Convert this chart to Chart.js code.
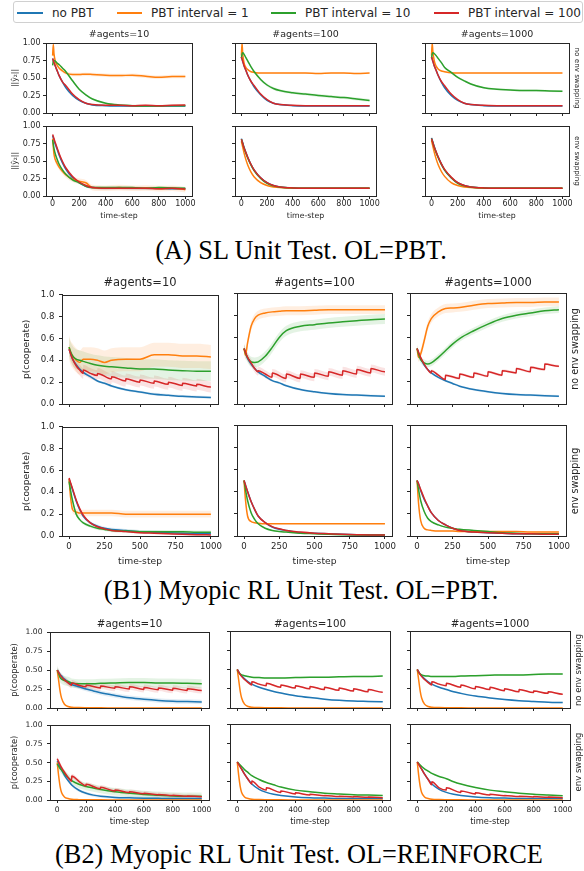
<!DOCTYPE html>
<html><head><meta charset="utf-8">
<script src="https://cdn.jsdelivr.net/npm/chart.js@4.4.0/dist/chart.umd.min.js"></script>
<style>
html,body{margin:0;padding:0;background:#fff;}
body{width:584px;height:871px;position:relative;overflow:hidden;font-family:'DejaVu Sans',sans-serif;}
canvas{position:absolute;}
.t{position:absolute;white-space:nowrap;color:#262626;line-height:1;}
.cap{position:absolute;white-space:nowrap;font-family:'Liberation Serif','Times New Roman',serif;line-height:1;color:#000;}
#legend{position:absolute;left:13px;top:1px;width:568px;height:20px;border:1px solid #d0d0d0;border-radius:3px;}
.ll{position:absolute;height:2px;top:10px;}
.lt{position:absolute;top:4px;font-size:12px;line-height:14px;color:#262626;white-space:nowrap;}
</style></head><body>
<div id="legend"></div>
<script>
// ---------------- labels ----------------
const SERIES = ['no PBT','PBT interval = 1','PBT interval = 10','PBT interval = 100'];
const AGENT_TITLES = ['#agents=10','#agents=100','#agents=1000'];
const ROW_LABELS = ['no env swapping','env swapping'];
const CAPTIONS = ['(A) SL Unit Test. OL=PBT.','(B1) Myopic RL Unit Test. OL=PBT.','(B2) Myopic RL Unit Test. OL=REINFORCE'];
const A_XTICKS = [0,200,400,600,800,1000];
const A_YTICKS = [0,0.25,0.5,0.75,1];
const B1_XTICKS = [0,250,500,750,1000];
const B1_YTICKS = [0,0.2,0.4,0.6,0.8,1];
const B2_XTICKS = [0,200,400,600,800,1000];
const B2_YTICKS = [0,0.25,0.5,0.75,1];

// ---------------- block A data ----------------
const A_X = [0,5,10,20,35,50,75,100,150,200,250,300,400,500,600,700,800,900,1000];
const A11_blue   = [0.78,0.75,0.72,0.67,0.60,0.53,0.44,0.36,0.25,0.18,0.14,0.115,0.105,0.10,0.10,0.10,0.10,0.10,0.10];
const A11_orange = [0.82,0.98,0.85,0.74,0.68,0.64,0.60,0.57,0.55,0.55,0.555,0.55,0.54,0.535,0.54,0.525,0.51,0.52,0.52];
const A11_green  = [0.68,0.74,0.75,0.74,0.71,0.69,0.64,0.59,0.46,0.34,0.26,0.20,0.14,0.115,0.105,0.10,0.10,0.105,0.105];
const A11_red    = [0.78,0.75,0.72,0.67,0.60,0.53,0.44,0.39,0.27,0.19,0.14,0.12,0.11,0.11,0.105,0.11,0.105,0.11,0.115];
const A12_blue   = [0.80,0.77,0.74,0.68,0.61,0.54,0.45,0.37,0.26,0.18,0.14,0.12,0.105,0.10,0.10,0.10,0.10,0.10,0.10];
const A12_orange = [0.82,1.0,0.85,0.72,0.65,0.62,0.59,0.58,0.57,0.57,0.57,0.57,0.57,0.57,0.565,0.57,0.57,0.565,0.57];
const A12_green  = [0.78,0.84,0.86,0.84,0.79,0.74,0.66,0.59,0.48,0.40,0.35,0.32,0.29,0.27,0.25,0.235,0.22,0.20,0.18];
const A12_red    = [0.80,0.77,0.74,0.68,0.61,0.54,0.45,0.39,0.27,0.19,0.14,0.12,0.11,0.105,0.105,0.105,0.105,0.105,0.105];
const A13_blue   = [0.80,0.77,0.74,0.68,0.61,0.54,0.44,0.36,0.25,0.18,0.14,0.12,0.105,0.10,0.10,0.10,0.10,0.10,0.10];
const A13_orange = [0.82,1.0,0.88,0.75,0.67,0.63,0.60,0.59,0.575,0.57,0.57,0.57,0.57,0.57,0.57,0.57,0.57,0.57,0.57];
const A13_green  = [0.78,0.84,0.86,0.85,0.82,0.78,0.72,0.65,0.58,0.51,0.46,0.415,0.36,0.34,0.33,0.32,0.32,0.315,0.31];
const A13_red    = [0.80,0.77,0.74,0.68,0.61,0.54,0.45,0.39,0.27,0.19,0.14,0.12,0.11,0.105,0.105,0.105,0.105,0.105,0.105];
const A21_blue   = [0.86,0.83,0.80,0.74,0.66,0.58,0.47,0.38,0.26,0.19,0.14,0.12,0.11,0.115,0.11,0.11,0.11,0.105,0.105];
const A21_orange = [0.82,0.70,0.60,0.52,0.46,0.41,0.35,0.30,0.24,0.21,0.19,0.12,0.11,0.12,0.11,0.115,0.105,0.11,0.09];
const A21_green  = [0.80,0.74,0.68,0.60,0.52,0.45,0.37,0.31,0.23,0.19,0.14,0.12,0.12,0.12,0.12,0.11,0.12,0.115,0.11];
const A21_red    = [0.88,0.85,0.82,0.76,0.68,0.60,0.49,0.40,0.28,0.20,0.15,0.12,0.11,0.11,0.11,0.11,0.105,0.11,0.10];
const A22_blue   = [0.82,0.79,0.76,0.70,0.62,0.55,0.45,0.37,0.26,0.19,0.15,0.13,0.115,0.11,0.11,0.11,0.11,0.11,0.11];
const A22_orange = [0.78,0.74,0.70,0.62,0.52,0.44,0.34,0.27,0.19,0.15,0.13,0.12,0.11,0.11,0.11,0.11,0.11,0.11,0.11];
const A22_green  = [0.81,0.78,0.75,0.69,0.61,0.54,0.44,0.36,0.25,0.18,0.145,0.125,0.115,0.11,0.11,0.11,0.11,0.11,0.11];
const A22_red    = [0.81,0.78,0.75,0.69,0.62,0.55,0.45,0.37,0.26,0.19,0.15,0.13,0.115,0.11,0.11,0.11,0.11,0.11,0.11];
const A23_blue   = [0.83,0.80,0.77,0.71,0.63,0.56,0.46,0.37,0.26,0.19,0.15,0.13,0.115,0.11,0.11,0.11,0.11,0.11,0.11];
const A23_orange = [0.79,0.75,0.71,0.63,0.53,0.45,0.35,0.28,0.19,0.15,0.13,0.12,0.11,0.11,0.11,0.11,0.11,0.11,0.11];
const A23_green  = [0.82,0.79,0.76,0.70,0.62,0.55,0.45,0.37,0.26,0.18,0.145,0.125,0.115,0.11,0.11,0.11,0.11,0.11,0.11];
const A23_red    = [0.82,0.79,0.76,0.70,0.63,0.56,0.46,0.38,0.27,0.19,0.15,0.13,0.115,0.11,0.11,0.11,0.11,0.11,0.11];
const A11_band = [0.01,0.025,0.015,0.01], A12_band = [0.01,0.01,0.02,0.01], A13_band = [0.01,0.01,0.015,0.01];
const A21_band = [0.02,0.04,0.02,0.02], A22_band = [0.01,0.01,0.01,0.01], A23_band = [0.01,0.01,0.01,0.01];

// ---------------- block B1 data ----------------
const B1_X  = [0,10,25,50,75,100,150,200,250,300,400,500,600,700,800,900,1000];
const B1_RX = [0,25,50,75,99,100,150,199,200,299,300,399,400,499,500,599,600,699,700,799,800,899,900,999,1000];
const B1_11_blue   = [0.50,0.46,0.41,0.36,0.32,0.29,0.25,0.21,0.19,0.165,0.13,0.11,0.09,0.08,0.07,0.065,0.06];
const B1_11_orange = [0.52,0.47,0.44,0.40,0.38,0.41,0.41,0.40,0.38,0.40,0.41,0.41,0.45,0.45,0.44,0.44,0.43];
const B1_11_green  = [0.52,0.48,0.44,0.41,0.40,0.39,0.37,0.355,0.345,0.34,0.33,0.32,0.32,0.31,0.305,0.30,0.30];
const B1_11_red    = [0.50,0.41,0.35,0.31,0.28,0.31,0.28,0.26,0.28,0.23,0.25,0.21,0.23,0.20,0.22,0.19,0.21,0.18,0.20,0.17,0.19,0.165,0.18,0.155,0.155];
const B1_12_blue   = [0.50,0.46,0.41,0.36,0.32,0.29,0.25,0.21,0.19,0.165,0.13,0.11,0.095,0.085,0.08,0.075,0.07];
const B1_12_orange = [0.50,0.44,0.55,0.70,0.77,0.80,0.82,0.83,0.835,0.84,0.84,0.845,0.85,0.85,0.85,0.85,0.85];
const B1_12_green  = [0.50,0.46,0.42,0.38,0.375,0.38,0.43,0.51,0.60,0.66,0.70,0.715,0.73,0.74,0.75,0.76,0.765];
const B1_12_red    = [0.50,0.42,0.37,0.32,0.29,0.30,0.27,0.24,0.28,0.23,0.27,0.23,0.27,0.24,0.28,0.25,0.29,0.26,0.30,0.27,0.31,0.28,0.32,0.29,0.29];
const B1_13_blue   = [0.50,0.46,0.41,0.35,0.31,0.28,0.24,0.21,0.185,0.16,0.13,0.11,0.095,0.085,0.08,0.075,0.07];
const B1_13_orange = [0.50,0.42,0.45,0.57,0.70,0.77,0.83,0.86,0.865,0.87,0.89,0.905,0.91,0.915,0.915,0.92,0.92];
const B1_13_green  = [0.50,0.45,0.40,0.37,0.36,0.37,0.42,0.48,0.54,0.59,0.66,0.72,0.77,0.80,0.82,0.84,0.85];
const B1_13_red    = [0.50,0.42,0.36,0.31,0.28,0.30,0.26,0.22,0.26,0.23,0.27,0.24,0.28,0.25,0.29,0.26,0.30,0.28,0.32,0.29,0.33,0.31,0.36,0.34,0.34];
const B1_21_blue   = [0.52,0.48,0.42,0.32,0.24,0.18,0.12,0.09,0.07,0.06,0.05,0.04,0.035,0.03,0.025,0.02,0.02];
const B1_21_orange = [0.52,0.36,0.24,0.22,0.21,0.21,0.21,0.21,0.21,0.21,0.20,0.20,0.20,0.20,0.20,0.20,0.20];
const B1_21_green  = [0.50,0.42,0.32,0.20,0.15,0.12,0.09,0.07,0.06,0.05,0.045,0.04,0.04,0.04,0.04,0.035,0.035];
const B1_21_red    = [0.53,0.49,0.43,0.33,0.25,0.19,0.12,0.085,0.065,0.05,0.04,0.03,0.025,0.02,0.015,0.012,0.01];
const B1_22_blue   = [0.50,0.46,0.40,0.31,0.24,0.18,0.12,0.08,0.06,0.05,0.03,0.025,0.02,0.015,0.012,0.01,0.01];
const B1_22_orange = [0.50,0.33,0.18,0.13,0.12,0.115,0.11,0.11,0.11,0.11,0.11,0.11,0.11,0.11,0.11,0.11,0.11];
const B1_22_green  = [0.50,0.42,0.32,0.21,0.15,0.11,0.07,0.05,0.04,0.035,0.025,0.02,0.015,0.012,0.01,0.01,0.01];
const B1_22_red    = [0.50,0.46,0.40,0.31,0.24,0.18,0.12,0.085,0.065,0.05,0.035,0.025,0.02,0.015,0.012,0.01,0.01];
const B1_23_blue   = [0.50,0.47,0.41,0.33,0.27,0.21,0.14,0.10,0.07,0.05,0.035,0.03,0.025,0.02,0.02,0.02,0.02];
const B1_23_orange = [0.50,0.30,0.14,0.07,0.055,0.05,0.045,0.045,0.045,0.04,0.04,0.04,0.04,0.04,0.035,0.035,0.035];
const B1_23_green  = [0.50,0.42,0.32,0.22,0.16,0.13,0.10,0.08,0.07,0.06,0.05,0.04,0.03,0.025,0.02,0.02,0.02];
const B1_23_red    = [0.50,0.47,0.42,0.34,0.27,0.21,0.14,0.10,0.07,0.05,0.035,0.03,0.025,0.02,0.02,0.015,0.015];
const B1_11_band = [0.012,0.11,0.09,0.05], B1_12_band = [0.01,0.04,0.045,0.035], B1_13_band = [0.01,0.04,0.03,0.012];
const B1_21_band = [0.015,0.03,0.015,0.01], B1_22_band = [0.005,0.005,0.005,0.005], B1_23_band = [0.005,0.005,0.005,0.005];

// ---------------- block B2 data ----------------
const B2_X  = [0,10,20,30,50,75,100,150,200,250,300,400,500,600,700,800,900,1000];
const B2_RX = [0,25,50,75,99,100,150,199,200,299,300,399,400,499,500,599,600,699,700,799,800,899,900,999,1000];
const B2_11_blue   = [0.50,0.47,0.44,0.42,0.38,0.34,0.31,0.28,0.25,0.225,0.20,0.165,0.135,0.115,0.10,0.09,0.085,0.08];
const B2_11_orange = [0.50,0.36,0.22,0.13,0.05,0.02,0.01,0.005,0.003,0.002,0.002,0.001,0.001,0.001,0.001,0.001,0.001,0.001];
const B2_11_green  = [0.50,0.45,0.40,0.38,0.36,0.35,0.33,0.32,0.32,0.32,0.325,0.33,0.335,0.335,0.33,0.33,0.325,0.32];
const B2_11_red    = [0.50,0.42,0.37,0.33,0.30,0.33,0.30,0.28,0.30,0.265,0.29,0.26,0.28,0.25,0.28,0.245,0.27,0.24,0.265,0.235,0.26,0.23,0.255,0.23,0.23];
const B2_12_blue   = [0.50,0.47,0.44,0.42,0.38,0.34,0.31,0.27,0.24,0.215,0.195,0.16,0.135,0.115,0.10,0.09,0.085,0.08];
const B2_12_orange = [0.50,0.36,0.22,0.13,0.05,0.02,0.01,0.005,0.003,0.002,0.002,0.001,0.001,0.001,0.001,0.001,0.001,0.001];
const B2_12_green  = [0.50,0.46,0.44,0.43,0.42,0.41,0.40,0.395,0.39,0.39,0.39,0.395,0.40,0.40,0.405,0.41,0.41,0.415];
const B2_12_red    = [0.50,0.42,0.37,0.33,0.30,0.34,0.31,0.29,0.32,0.27,0.30,0.26,0.29,0.25,0.28,0.24,0.27,0.23,0.26,0.22,0.25,0.21,0.24,0.205,0.205];
const B2_13_blue   = [0.50,0.47,0.44,0.42,0.38,0.34,0.31,0.27,0.24,0.21,0.19,0.155,0.13,0.11,0.095,0.085,0.075,0.07];
const B2_13_orange = [0.50,0.36,0.22,0.13,0.05,0.02,0.01,0.005,0.003,0.002,0.002,0.001,0.001,0.001,0.001,0.001,0.001,0.001];
const B2_13_green  = [0.50,0.46,0.44,0.43,0.42,0.415,0.41,0.41,0.41,0.41,0.415,0.42,0.425,0.43,0.43,0.435,0.44,0.44];
const B2_13_red    = [0.50,0.42,0.37,0.33,0.30,0.34,0.31,0.29,0.32,0.27,0.30,0.25,0.28,0.24,0.27,0.225,0.25,0.21,0.24,0.20,0.22,0.19,0.21,0.18,0.18];
const B2_21_blue   = [0.52,0.48,0.44,0.40,0.33,0.26,0.20,0.13,0.09,0.065,0.05,0.035,0.03,0.025,0.022,0.02,0.02,0.02];
const B2_21_orange = [0.50,0.32,0.18,0.10,0.04,0.02,0.01,0.005,0.003,0.002,0.002,0.001,0.001,0.001,0.001,0.001,0.001,0.001];
const B2_21_green  = [0.48,0.45,0.42,0.40,0.35,0.30,0.26,0.21,0.18,0.16,0.14,0.11,0.09,0.075,0.065,0.055,0.05,0.05];
const B2_21_red    = [0.55,0.45,0.37,0.30,0.25,0.32,0.25,0.19,0.21,0.15,0.17,0.12,0.135,0.10,0.11,0.085,0.09,0.07,0.075,0.06,0.065,0.05,0.055,0.045,0.045];
const B2_22_blue   = [0.50,0.47,0.44,0.41,0.34,0.27,0.21,0.14,0.10,0.075,0.06,0.04,0.03,0.025,0.02,0.02,0.02,0.02];
const B2_22_orange = [0.50,0.32,0.18,0.10,0.04,0.02,0.01,0.005,0.003,0.002,0.002,0.001,0.001,0.001,0.001,0.001,0.001,0.001];
const B2_22_green  = [0.50,0.48,0.46,0.44,0.40,0.36,0.32,0.27,0.23,0.20,0.17,0.13,0.11,0.09,0.08,0.07,0.065,0.06];
const B2_22_red    = [0.50,0.42,0.34,0.27,0.21,0.25,0.17,0.13,0.16,0.10,0.12,0.08,0.095,0.065,0.075,0.055,0.06,0.045,0.05,0.04,0.045,0.035,0.04,0.03,0.03];
const B2_23_blue   = [0.50,0.47,0.44,0.41,0.34,0.27,0.21,0.14,0.10,0.075,0.06,0.04,0.03,0.025,0.02,0.02,0.02,0.02];
const B2_23_orange = [0.50,0.32,0.18,0.10,0.04,0.02,0.01,0.005,0.003,0.002,0.002,0.001,0.001,0.001,0.001,0.001,0.001,0.001];
const B2_23_green  = [0.50,0.48,0.46,0.44,0.41,0.38,0.35,0.31,0.28,0.24,0.21,0.165,0.13,0.11,0.09,0.075,0.065,0.057];
const B2_23_red    = [0.50,0.42,0.34,0.27,0.20,0.24,0.16,0.13,0.16,0.10,0.12,0.08,0.095,0.065,0.075,0.055,0.06,0.045,0.05,0.04,0.045,0.035,0.04,0.03,0.03];
const B2_11_band = [0.03,0.005,0.06,0.04], B2_12_band = [0.01,0.005,0.01,0.01], B2_13_band = [0.01,0.005,0.01,0.01];
const B2_21_band = [0.02,0.005,0.05,0.03], B2_22_band = [0.005,0.005,0.005,0.005], B2_23_band = [0.005,0.005,0.005,0.005];

// ---------------- styles / layout ----------------
const COLORS = ['#1f77b4','#ff7f0e','#2ca02c','#d62728'];
const INK = '#262626';
const BLOCKS = {
  A:  {cols:[[46,192],[235,376],[425,569]], rows:[[43,113],[126,196]], xTicks:A_XTICKS, yTicks:A_YTICKS, yDec:2,
       tick:8, title:9.5, axis:7.8, side:7.2, titleY:34, yTitleX:15, xTitleY:216, xPad:0.5, yPad:2.5,
       yLabel:'||ŷ₂||', sideX:577, sideRot:90, capX:301, capY:251, capSize:26.3, cap:CAPTIONS[0]},
  B1: {cols:[[62,218],[237,392],[410,566]], rows:[[293,404],[425,536]], xTicks:B1_XTICKS, yTicks:B1_YTICKS, yDec:1,
       tick:8.6, title:11.5, axis:9.2, side:9.6, titleY:283, yTitleX:27, xTitleY:562, xPad:2.5, yPad:4.5,
       yLabel:'p(cooperate)', sideX:575, sideRot:-90, capX:301, capY:591, capSize:26.3, cap:CAPTIONS[1]},
  B2: {cols:[[50,209],[230,390],[410,570]], rows:[[631,708],[724,800]], xTicks:B2_XTICKS, yTicks:B2_YTICKS, yDec:2,
       tick:7.6, title:10.3, axis:8.3, side:8.5, titleY:623, yTitleX:15, xTitleY:822, xPad:2.2, yPad:4.5,
       yLabel:'p(cooperate)', sideX:578, sideRot:-90, capX:299, capY:855, capSize:26.3, cap:CAPTIONS[2]}
};

function rgba(hex, a){const n=parseInt(hex.slice(1),16);return `rgba(${n>>16&255},${n>>8&255},${n&255},${a})`;}
function addText(txt, cx, cy, size, rot, cls){
  const d=document.createElement('div'); d.className=cls||'t'; d.textContent=txt;
  d.style.fontSize=size+'px'; d.style.left=cx+'px'; d.style.top=cy+'px';
  d.style.transform=`translate(-50%,-50%) rotate(${rot||0}deg)`;
  document.body.appendChild(d); return d;
}
const framePlugin = {id:'frame', afterDraw(chart){
  const a=chart.chartArea, ctx=chart.ctx; ctx.save(); ctx.strokeStyle=INK; ctx.lineWidth=1;
  ctx.strokeRect(Math.round(a.left)+0.5, Math.round(a.top)+0.5, Math.round(a.right)-Math.round(a.left), Math.round(a.bottom)-Math.round(a.top));
  ctx.restore();}};

function panel(bk, r, c, xsArr, ysArr, band){
  const b=BLOCKS[bk];
  const [L,R]=b.cols[c], [T,B]=b.rows[r];
  const padL = c===0 ? L : 30, padT = 8, padR = 10;
  const padB = r===1 ? (b.xTitleY + 7 - B) : 10;
  const W = padL+(R-L)+padR, H = padT+(B-T)+padB;
  const cv=document.createElement('canvas'); cv.width=W; cv.height=H;
  Object.assign(cv.style,{left:(L-padL)+'px',top:(T-padT)+'px',width:W+'px',height:H+'px'});
  document.body.appendChild(cv);
  const ds=[];
  for(let i=0;i<4;i++){
    const xs=xsArr[i], ys=ysArr[i], w=band[i];
    ds.push({data:xs.map((x,k)=>({x,y:ys[k]+w})), fill:'+1', backgroundColor:rgba(COLORS[i],0.13), borderColor:'rgba(0,0,0,0)', borderWidth:0, pointRadius:0, order:10+i, cubicInterpolationMode:'monotone'});
    ds.push({data:xs.map((x,k)=>({x,y:ys[k]-w})), fill:false, borderColor:'rgba(0,0,0,0)', borderWidth:0, pointRadius:0, order:10+i, cubicInterpolationMode:'monotone'});
  }
  for(let i=0;i<4;i++){
    ds.push({label:SERIES[i], data:xsArr[i].map((x,k)=>({x,y:ysArr[i][k]})), borderColor:COLORS[i], borderWidth:1.5, pointRadius:0, fill:false, order:4-i, cubicInterpolationMode:'monotone'});
  }
  const lh = b.axis*1.2;
  new Chart(cv,{type:'line', data:{datasets:ds}, plugins:[framePlugin],
    options:{responsive:false, animation:false, devicePixelRatio:1, events:[],
      layout:{padding:{left:0,top:padT,right:padR,bottom:0}},
      plugins:{legend:{display:false}, tooltip:{enabled:false}, title:{display:false}},
      scales:{
        x:{type:'linear', position:'bottom', min:-50, max:1050,
           afterBuildTicks:s=>{s.ticks=b.xTicks.map(v=>({value:v}));},
           afterFit:s=>{s.height=padB;},
           ticks:{display:r===1, autoSkip:false, maxRotation:0, padding:b.xPad, color:INK, font:{family:'DejaVu Sans',size:b.tick}, callback:v=>String(v)},
           grid:{drawOnChartArea:false, drawTicks:true, tickLength:3, color:INK, tickColor:INK},
           border:{display:true, color:INK, width:1},
           title:{display:r===1, text:'time-step', color:INK, font:{family:'DejaVu Sans',size:b.axis}, padding:{top:0,bottom:7-lh/2}}},
        y:{type:'linear', position:'left', min:0, max:1,
           afterBuildTicks:s=>{s.ticks=b.yTicks.map(v=>({value:v}));},
           afterFit:s=>{s.width=padL;},
           ticks:{display:c===0, padding:b.yPad, color:INK, font:{family:'DejaVu Sans',size:b.tick}, callback:v=>Number(v).toFixed(b.yDec)},
           grid:{drawOnChartArea:false, drawTicks:true, tickLength:3, color:INK, tickColor:INK},
           border:{display:true, color:INK, width:1},
           title:{display:c===0, text:b.yLabel, color:INK, font:{family:'DejaVu Sans',size:b.axis}, padding:{top:b.yTitleX-lh/2,bottom:0}}}
      }}});
}

function block(bk, rows){
  const b=BLOCKS[bk];
  for(let r=0;r<2;r++) for(let c=0;c<3;c++){
    const p=rows[r][c];
    panel(bk,r,c,p.x,p.y,p.band);
  }
  for(let c=0;c<3;c++) addText(AGENT_TITLES[c], (b.cols[c][0]+b.cols[c][1])/2, b.titleY, b.title, 0);
  for(let r=0;r<2;r++) addText(ROW_LABELS[r], b.sideX, (b.rows[r][0]+b.rows[r][1])/2, b.side, b.sideRot);
  addText(b.cap, b.capX, b.capY, b.capSize, 0, 'cap');
}

const AX=[A_X,A_X,A_X,A_X];
block('A', [
  [{x:AX,y:[A11_blue,A11_orange,A11_green,A11_red],band:A11_band},
   {x:AX,y:[A12_blue,A12_orange,A12_green,A12_red],band:A12_band},
   {x:AX,y:[A13_blue,A13_orange,A13_green,A13_red],band:A13_band}],
  [{x:AX,y:[A21_blue,A21_orange,A21_green,A21_red],band:A21_band},
   {x:AX,y:[A22_blue,A22_orange,A22_green,A22_red],band:A22_band},
   {x:AX,y:[A23_blue,A23_orange,A23_green,A23_red],band:A23_band}]
]);
const B1S=[B1_X,B1_X,B1_X,B1_RX], B1P=[B1_X,B1_X,B1_X,B1_X];
block('B1', [
  [{x:B1S,y:[B1_11_blue,B1_11_orange,B1_11_green,B1_11_red],band:B1_11_band},
   {x:B1S,y:[B1_12_blue,B1_12_orange,B1_12_green,B1_12_red],band:B1_12_band},
   {x:B1S,y:[B1_13_blue,B1_13_orange,B1_13_green,B1_13_red],band:B1_13_band}],
  [{x:B1P,y:[B1_21_blue,B1_21_orange,B1_21_green,B1_21_red],band:B1_21_band},
   {x:B1P,y:[B1_22_blue,B1_22_orange,B1_22_green,B1_22_red],band:B1_22_band},
   {x:B1P,y:[B1_23_blue,B1_23_orange,B1_23_green,B1_23_red],band:B1_23_band}]
]);
const B2S=[B2_X,B2_X,B2_X,B2_RX];
block('B2', [
  [{x:B2S,y:[B2_11_blue,B2_11_orange,B2_11_green,B2_11_red],band:B2_11_band},
   {x:B2S,y:[B2_12_blue,B2_12_orange,B2_12_green,B2_12_red],band:B2_12_band},
   {x:B2S,y:[B2_13_blue,B2_13_orange,B2_13_green,B2_13_red],band:B2_13_band}],
  [{x:B2S,y:[B2_21_blue,B2_21_orange,B2_21_green,B2_21_red],band:B2_21_band},
   {x:B2S,y:[B2_22_blue,B2_22_orange,B2_22_green,B2_22_red],band:B2_22_band},
   {x:B2S,y:[B2_23_blue,B2_23_orange,B2_23_green,B2_23_red],band:B2_23_band}]
]);

// legend (shared, HTML)
const LEG_LINE=[[17,43],[117,142],[271,296],[434,459]];
const LEG_TEXT=[52,151,305,468];
const leg=document.getElementById('legend');
for(let i=0;i<4;i++){
  const l=document.createElement('div'); l.className='ll'; l.style.background=COLORS[i];
  l.style.left=(LEG_LINE[i][0]-14)+'px'; l.style.width=(LEG_LINE[i][1]-LEG_LINE[i][0])+'px'; leg.appendChild(l);
  const t=document.createElement('div'); t.className='lt'; t.textContent=SERIES[i]; t.style.left=(LEG_TEXT[i]-14)+'px'; leg.appendChild(t);
}
</script>
</body></html>
